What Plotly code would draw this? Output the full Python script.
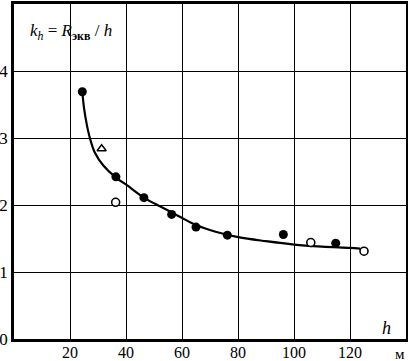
import plotly.graph_objects as go

# data
filled_x = [24.4, 36.4, 46.4, 56.3, 65.0, 76.2, 96.2, 114.9]
filled_y = [3.69, 2.42, 2.11, 1.86, 1.67, 1.55, 1.56, 1.43]
open_x = [36.3, 106.0, 125.0]
open_y = [2.04, 1.44, 1.31]
tri_x = [31.3]
tri_y = [2.84]
curve_x = [24.4, 25.0, 26.0, 27.1, 28.9, 31.9, 36.4, 40.2, 46.4, 52.1, 56.3, 59.9, 65.0, 72.0, 80.1, 90.0, 100.0, 110.0, 120.0, 123.6]
curve_y = [3.69, 3.45, 3.20, 3.00, 2.78, 2.59, 2.41, 2.30, 2.11, 1.98, 1.89, 1.81, 1.70, 1.60, 1.52, 1.46, 1.41, 1.38, 1.36, 1.35]
x_ticks = [20, 40, 60, 80, 100, 120]
y_ticks = [0, 1, 2, 3, 4]

fig = go.Figure()
fig.add_trace(go.Scatter(x=curve_x, y=curve_y, mode="lines", line=dict(color="black", width=2.2, shape="spline", smoothing=1.0), hoverinfo="skip"))
fig.add_trace(go.Scatter(x=filled_x, y=filled_y, mode="markers", marker=dict(symbol="circle", size=9, color="black")))
fig.add_trace(go.Scatter(x=open_x, y=open_y, mode="markers", marker=dict(symbol="circle", size=8, color="white", line=dict(color="black", width=1.6))))
fig.add_trace(go.Scatter(x=tri_x, y=tri_y, mode="markers", marker=dict(symbol="triangle-up", size=8, color="white", line=dict(color="black", width=1.4))))

font = dict(family="Liberation Serif", size=17, color="black")
xfont = dict(family="Liberation Serif", size=16, color="black")
fig.update_layout(
    width=408, height=361,
    margin=dict(l=14, r=2, t=4, b=22, autoexpand=False),
    paper_bgcolor="white", plot_bgcolor="white",
    showlegend=False,
    font=font,
    xaxis=dict(range=[0, 140], tickvals=x_ticks, showgrid=True, gridcolor="black", gridwidth=1.4,
               zeroline=False, showline=True, linecolor="black", linewidth=2.5, mirror=True,
               ticks="", tickfont=xfont, automargin=False, ticklabelstandoff=-3),
    yaxis=dict(range=[0, 5], tickvals=y_ticks, showgrid=True, gridcolor="black", gridwidth=1.4,
               zeroline=False, showline=True, linecolor="black", linewidth=2.5, mirror=True,
               ticks="", tickfont=font, automargin=False),
    annotations=[
        dict(x=133, y=0.17, xref="x", yref="y", text="<i>h</i>", showarrow=False,
             font=dict(family="Liberation Serif", size=18, color="black")),
        dict(x=(400 - 14) / 392, y=-(354 - 339) / 335, xref="paper", yref="paper", text="м", showarrow=False,
             xanchor="center", yanchor="middle", font=dict(family="Liberation Serif", size=15, color="black")),
        dict(x=0.035, y=0.915, xref="paper", yref="paper", xanchor="left", yanchor="middle",
             text="<i>k<sub>h</sub></i> = <i>R</i><sub><b>экв</b></sub> / <i>h</i>", showarrow=False,
             font=dict(family="Liberation Serif", size=17, color="black")),
    ],
)
fig.write_html("out.html", config={"displayModeBar": False}, post_script="document.body.style.margin='0';")
